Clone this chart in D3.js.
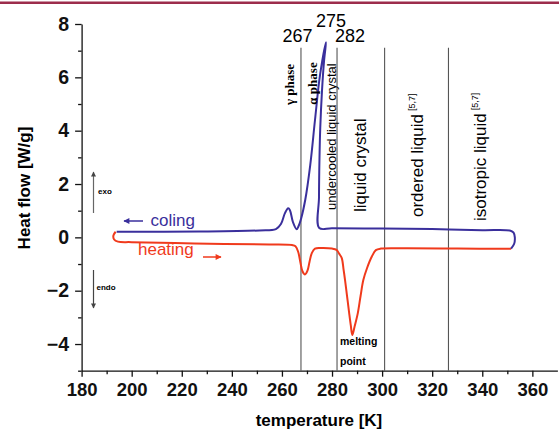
<!DOCTYPE html>
<meta charset="utf-8">
<script src="https://d3js.org/d3.v7.min.js"></script>
<style>
  body { margin: 0; background: #fff; }
  text { font-family: "Liberation Sans", Arial, sans-serif; }
</style>
<div id="viz"></div>
<script>

// heating run, temperature [K] and heat flow [W/g]
var heatT = [193.6, 192.7, 193.0, 194.5, 200, 225, 255, 264, 265.4, 266.5, 267.4, 268.2, 269.2, 270.2, 271.0, 271.9, 273.2, 276, 280, 281.8, 282.9, 283.9, 284.6, 285.2, 286.0, 286.8, 287.5, 288.1, 289.0, 290.3, 291.4, 292.5, 294.0, 295.9, 297.5, 299.5, 310, 330, 351.5];
var heatQ = [0.21, 0.07, -0.08, -0.16, -0.18, -0.23, -0.27, -0.29, -0.33, -0.55, -0.95, -1.27, -1.39, -1.25, -0.92, -0.6, -0.42, -0.40, -0.42, -0.47, -0.62, -0.78, -1.2, -1.6, -2.2, -2.8, -3.3, -3.66, -3.35, -2.84, -2.2, -1.6, -1.15, -0.72, -0.48, -0.42, -0.41, -0.42, -0.43];

// cooling run, traced from the hot end
var coolT = [351.5, 352.7, 353.0, 352.5, 351.3, 340, 320, 300, 280, 274.9, 274.8, 275.0, 275.3, 276.0, 276.8, 277.6, 275.2, 273.2, 271.3, 269.3, 267.7, 266.5, 265.9, 264.4, 263.2, 262.5, 261.2, 259.6, 257.6, 251, 227, 194];
var coolQ = [-0.42, -0.25, 0.0, 0.18, 0.25, 0.27, 0.31, 0.33, 0.34, 0.35, 1.5, 3.0, 4.1, 5.5, 6.6, 7.32, 6.08, 4.40, 2.71, 1.40, 0.72, 0.39, 0.30, 0.57, 1.02, 1.09, 0.91, 0.50, 0.31, 0.26, 0.22, 0.21];

// phase boundaries
var boundT = [267.6, 282, 301, 326.5];
var boundTop = 7.11;

var xTicks = [180, 200, 220, 240, 260, 280, 300, 320, 340, 360];
var xMinor = [190, 210, 230, 250, 270, 290, 310, 330, 350];
var yTicks = [-4, -2, 0, 2, 4, 6, 8];
var yMinor = [-5, -3, -1, 1, 3, 5, 7];

var W = 559, H = 431;
var blue = "#3a2f9c", red = "#f03a1c";

var svg = d3.select("#viz").append("svg")
    .attr("width", W).attr("height", H);

svg.append("rect")
    .attr("x", 0).attr("y", 1.5)
    .attr("width", W).attr("height", 2.5)
    .style("fill", "#9c2d4c");

var x = d3.scaleLinear().domain([180, 370]).range([81.6, 557.4]);
var y = d3.scaleLinear().domain([-5, 8]).range([370.7, 24]);

// axes
var xAxis = svg.append("g")
    .attr("transform", "translate(0," + y(-5) + ")")
    .call(d3.axisBottom(x).tickValues(xTicks).tickSize(6).tickSizeOuter(0).tickPadding(6));
svg.append("g")
    .attr("transform", "translate(0," + y(-5) + ")")
    .call(d3.axisBottom(x).tickValues(xMinor).tickSize(3.5).tickFormat(""))
    .select(".domain").remove();

var yAxis = svg.append("g")
    .attr("transform", "translate(" + x(180) + ",0)")
    .call(d3.axisLeft(y).tickValues(yTicks).tickSize(6.5).tickSizeOuter(0).tickPadding(6));
svg.append("g")
    .attr("transform", "translate(" + x(180) + ",0)")
    .call(d3.axisLeft(y).tickValues(yMinor).tickSize(3.5).tickFormat(""))
    .select(".domain").remove();

svg.selectAll(".domain, .tick line").attr("stroke", "#111").attr("stroke-width", 1.3);
xAxis.selectAll("text").style("font-size", "18.5px").style("font-weight", "bold")
    .style("font-family", "Liberation Sans, Arial, sans-serif").attr("fill", "#111");
yAxis.selectAll("text").style("font-size", "19.5px").style("font-weight", "bold")
    .style("font-family", "Liberation Sans, Arial, sans-serif").attr("fill", "#111");

svg.append("text")
    .attr("x", 319).attr("y", 426)
    .attr("text-anchor", "middle")
    .style("font-size", "17px").style("font-weight", "bold")
    .text("temperature [K]");

svg.append("text")
    .attr("transform", "translate(30,188) rotate(-90)")
    .attr("text-anchor", "middle")
    .style("font-size", "17px").style("font-weight", "bold")
    .text("Heat flow [W/g]");

// boundaries
svg.append("g").selectAll("line")
  .data(boundT)
  .enter().append("line")
    .attr("x1", function (d) { return x(d); })
    .attr("x2", function (d) { return x(d); })
    .attr("y1", y(boundTop))
    .attr("y2", y(-5))
    .attr("stroke", "#555")
    .attr("stroke-width", 1.1);

// curves
var line = d3.line()
    .x(function (d) { return x(d[0]); })
    .y(function (d) { return y(d[1]); })
    .curve(d3.curveCatmullRom.alpha(0.5));

svg.append("path")
    .datum(d3.zip(heatT, heatQ))
    .attr("d", line)
    .attr("fill", "none")
    .attr("stroke", red)
    .attr("stroke-width", 2);

svg.append("path")
    .datum(d3.zip(coolT, coolQ))
    .attr("d", line)
    .attr("fill", "none")
    .attr("stroke", blue)
    .attr("stroke-width", 2);

// temperature marks above boundaries
var marks = [["267", 297.5, 42], ["275", 331, 27], ["282", 350, 42]];
svg.append("g").selectAll("text")
  .data(marks)
  .enter().append("text")
    .attr("x", function (d) { return d[1]; })
    .attr("y", function (d) { return d[2]; })
    .attr("text-anchor", "middle")
    .style("font-size", "18px")
    .text(function (d) { return d[0]; });

// rotated phase names
function vlabel(txt, bx, by, size, opts) {
  opts = opts || {};
  var t = svg.append("text")
    .attr("transform", "translate(" + bx + "," + by + ") rotate(-90)")
    .attr("text-anchor", opts.anchor || "start")
    .style("font-size", size + "px");
  if (opts.serif) t.style("font-family", "Liberation Serif, Times New Roman, serif");
  if (opts.bold) t.style("font-weight", "bold");
  t.append("tspan").text(txt);
  if (opts.sup) {
    t.append("tspan").attr("dx", 3).attr("dy", -8)
      .style("font-size", "9px").text(opts.sup);
  }
  return t;
}

vlabel("\u03b3 phase", 294, 84.5, 13, {serif: true, bold: true, anchor: "middle"});
vlabel("\u03b1 phase", 317, 83.5, 13, {serif: true, bold: true, anchor: "middle"});
vlabel("undercooled liquid crystal", 336, 210, 13);
vlabel("liquid crystal", 365.5, 212, 17);
vlabel("ordered liquid", 422.5, 217, 17, {sup: "[5,7]"});
vlabel("isotropic liquid", 486, 221, 17, {sup: "[5,7]"});

// melting point note
svg.append("text").attr("x", 340).attr("y", 345)
    .style("font-size", "10.5px").style("font-weight", "bold").text("melting");
svg.append("text").attr("x", 340).attr("y", 365)
    .style("font-size", "10.5px").style("font-weight", "bold").text("point");

// arrow markers
var defs = svg.append("defs");
function marker(id, col, w, h) {
  defs.append("marker")
      .attr("id", id)
      .attr("viewBox", "0 0 10 10")
      .attr("refX", 9).attr("refY", 5)
      .attr("markerUnits", "userSpaceOnUse")
      .attr("markerWidth", w).attr("markerHeight", h)
      .attr("orient", "auto")
    .append("path")
      .attr("d", "M0,0 L10,5 L0,10 Z")
      .attr("fill", col);
}
marker("ag", "#444", 8, 5);
marker("ab", blue, 8, 6);
marker("ar", red, 8, 6);

// exo / endo
svg.append("line").attr("x1", 93.5).attr("x2", 93.5).attr("y1", 213).attr("y2", 172)
    .attr("stroke", "#666").attr("stroke-width", 1.2).attr("marker-end", "url(#ag)");
svg.append("line").attr("x1", 93.5).attr("x2", 93.5).attr("y1", 270).attr("y2", 308)
    .attr("stroke", "#444").attr("stroke-width", 1.2).attr("marker-end", "url(#ag)");
svg.append("text").attr("x", 98).attr("y", 194)
    .style("font-size", "8px").style("font-weight", "bold").text("exo");
svg.append("text").attr("x", 96.5).attr("y", 290)
    .style("font-size", "8px").style("font-weight", "bold").text("endo");

// run legend
svg.append("line").attr("x1", 143).attr("x2", 124).attr("y1", 221).attr("y2", 221)
    .attr("stroke", blue).attr("stroke-width", 1.5).attr("marker-end", "url(#ab)");
svg.append("text").attr("x", 150.5).attr("y", 225.5)
    .style("font-size", "17px").attr("fill", blue).text("coling");
svg.append("line").attr("x1", 203).attr("x2", 221).attr("y1", 257).attr("y2", 257)
    .attr("stroke", red).attr("stroke-width", 1.5).attr("marker-end", "url(#ar)");
svg.append("text").attr("x", 138).attr("y", 255)
    .style("font-size", "17px").attr("fill", red).text("heating");

</script>
